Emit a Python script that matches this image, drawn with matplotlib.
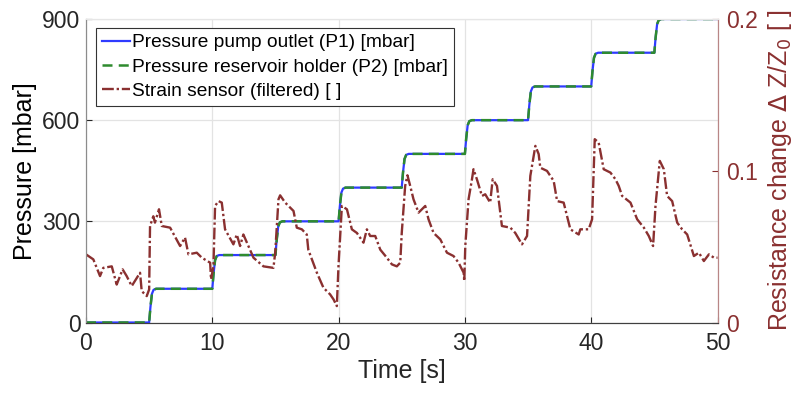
import matplotlib
matplotlib.use("Agg")

import numpy as np
import matplotlib.pyplot as plt

plt.rcParams["font.family"] = ["Liberation Sans", "DejaVu Sans"]
plt.rcParams["axes.unicode_minus"] = False

# ---- data ----
step_times = [5, 10, 15, 20, 25, 30, 35, 40, 45]
p_levels = [0, 100, 200, 300, 400, 500, 600, 700, 800, 900]
# shape of one pressure rise: time after step [s] / fraction of step reached
rise_dt = [0.0, 0.10, 0.22, 0.35, 0.55]
rise_frac = [0.0, 0.45, 0.85, 0.97, 1.0]

t_strain = [0, 0.58, 1.11, 1.37, 2.04, 2.43, 2.9, 3.22, 3.62, 4.28, 4.41, 4.81, 5.0,
            5.07, 5.33, 5.46, 5.78, 6.0, 6.66, 7.45, 7.84, 8.11, 8.77, 9.17, 9.83, 9.9,
            10.09, 10.22, 10.49, 10.75, 11.01, 11.67, 11.94, 12.2, 12.46, 12.86, 13.26,
            14.05, 14.84, 14.98, 15.24, 15.37, 15.77, 16.43, 16.69, 17.09, 17.48, 17.6,
            18.28, 18.8, 19.33, 19.6, 19.86, 19.99, 20.26, 20.66, 21.05, 21.45, 21.97,
            22.24, 22.5, 22.9, 23.3, 23.82, 24.22, 24.61, 24.88, 25.0, 25.27, 25.45,
            25.67, 25.93, 26.33, 26.86, 27.12, 27.52, 28.05, 28.58, 29.1, 29.5, 29.9,
            29.95, 30.03, 30.29, 30.56, 30.68, 30.95, 31.35, 31.61, 32.0, 32.2, 32.54,
            32.93, 33.6, 33.99, 34.52, 34.92, 35.18, 35.58, 35.84, 35.97, 36.5, 37.03,
            37.3, 37.82, 38.35, 39.01, 39.14, 39.8, 40.07, 40.28, 40.59, 40.99, 41.52,
            41.92, 42.18, 42.45, 43.11, 43.64, 44.17, 44.56, 44.9, 45.09, 45.43, 45.75,
            46.01, 46.41, 46.81, 47.2, 47.6, 48.13, 48.53, 48.92, 49.32, 49.72, 50.0]
strain = [0.0449, 0.0416, 0.0306, 0.036, 0.037, 0.025, 0.035, 0.0306, 0.024, 0.0328,
          0.0207, 0.0174, 0.0218, 0.0636, 0.070, 0.0658, 0.0746, 0.0636, 0.0625, 0.0504,
          0.056, 0.0449, 0.046, 0.0427, 0.0394, 0.0284, 0.037, 0.0768, 0.080, 0.079,
          0.0614, 0.0515, 0.058, 0.0504, 0.058, 0.0504, 0.0427, 0.037, 0.036, 0.046,
          0.0812, 0.0838, 0.079, 0.0735, 0.0625, 0.0614, 0.058, 0.048, 0.0328, 0.0229,
          0.0185, 0.0152, 0.0108, 0.037, 0.0768, 0.0746, 0.0614, 0.059, 0.0526, 0.0614,
          0.057, 0.057, 0.048, 0.0427, 0.0383, 0.037, 0.0394, 0.059, 0.090, 0.097,
          0.090, 0.0812, 0.0724, 0.0768, 0.068, 0.059, 0.0548, 0.046, 0.0438, 0.0394,
          0.0328, 0.0273, 0.0504, 0.0812, 0.0944, 0.101, 0.0944, 0.0834, 0.0845, 0.079,
          0.0944, 0.090, 0.0636, 0.0625, 0.059, 0.0515, 0.057, 0.0966, 0.1164, 0.111,
          0.102, 0.0999, 0.0933, 0.080, 0.079, 0.0614, 0.058, 0.0614, 0.0614, 0.068,
          0.1208, 0.1186, 0.101, 0.0988, 0.0944, 0.090, 0.0834, 0.079, 0.068, 0.0625,
          0.057, 0.0504, 0.0768, 0.1065, 0.101, 0.0834, 0.080, 0.0658, 0.0614, 0.058,
          0.0438, 0.046, 0.0405, 0.0449, 0.0427, 0.0427]

x_ticks = [0, 10, 20, 30, 40, 50]
p_ticks = [0, 300, 600, 900]
r_ticks = [0, 0.1, 0.2]
legend_labels = ["Pressure pump outlet (P1) [mbar]",
                 "Pressure reservoir holder (P2) [mbar]",
                 "Strain sensor (filtered) [ ]"]

# build the step trace for the pressure lines
t_p, p_p = [0.0], [p_levels[0]]
for i, ts in enumerate(step_times):
    lo, hi = p_levels[i], p_levels[i + 1]
    for dt, fr in zip(rise_dt, rise_frac):
        t_p.append(ts + dt)
        p_p.append(lo + (hi - lo) * fr)
t_p.append(50.0)
p_p.append(p_levels[-1])

# ---- colours ----
c_blue = "#2F3BFF"
c_green = "#2E8B2E"
c_red = "#8A3030"
c_ink = "#262626"

fig = plt.figure(figsize=(7.97, 3.97), dpi=100)
ax = fig.add_axes([86 / 797, 1 - 322.5 / 397, (717.5 - 86) / 797, (322.5 - 19) / 397])
ax2 = ax.twinx()

l1, = ax.plot(t_p, p_p, color=c_blue, lw=1.6, zorder=3)
l2, = ax.plot(t_p, p_p, color=c_green, lw=1.8, ls=(0, (4, 2.5)), zorder=4)
l3, = ax2.plot(t_strain, strain, color=c_red, lw=1.7, ls=(0, (5, 1.2, 1, 1.2)))

ax.set_xlim(0, 50)
ax.set_ylim(0, 900)
ax2.set_ylim(0, 0.2)
ax.set_xticks(x_ticks)
ax.set_yticks(p_ticks)
ax2.set_yticks(r_ticks)
ax2.set_yticklabels(["0", "0.1", "0.2"])

ax.grid(True, color="#E3E3E3", lw=0.9)
ax.set_axisbelow(True)

ax.tick_params(axis="both", direction="in", length=4, labelsize=16.5, colors=c_ink, pad=4)
ax.tick_params(axis="x", pad=7)
ax2.tick_params(axis="y", direction="in", length=4, labelsize=16.5, colors=c_red, pad=6)

ax.set_xlabel("Time [s]", fontsize=18, color=c_ink, labelpad=3)
ax.set_ylabel("Pressure [mbar]", fontsize=18, color="black", labelpad=4)
ax2.set_ylabel(r"Resistance change $\Delta$ Z/Z$_0$ [ ]", fontsize=18, color=c_red, labelpad=6)

for a in (ax, ax2):
    a.spines["top"].set_color("#E6E6E6")
    a.spines["left"].set_color("#8C8C8C")
    a.spines["bottom"].set_color("#404040")
    a.spines["right"].set_color("#B98686")

leg = ax.legend([l1, l2, l3], legend_labels,
                loc="upper left", bbox_to_anchor=(0.016, 0.97), fontsize=13.8,
                frameon=True, fancybox=False, framealpha=1, edgecolor="#333333",
                handlelength=1.45, handletextpad=0.12, borderpad=0.3, labelspacing=0.36,
                borderaxespad=0)
leg.get_frame().set_linewidth(0.8)
leg.set_zorder(10)

fig.savefig("out.png", dpi=100)
